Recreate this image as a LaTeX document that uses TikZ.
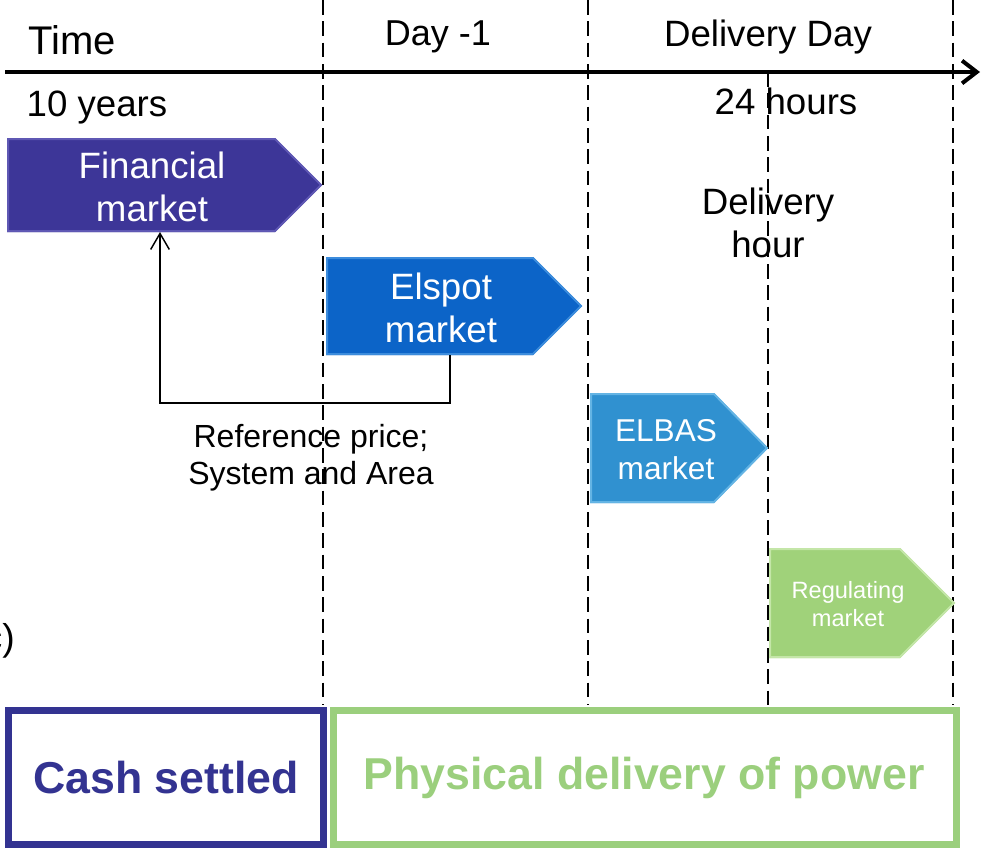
\documentclass[tikz,border=0pt]{standalone}
\usepackage{fontspec}
\setmainfont{Liberation Sans}
\usetikzlibrary{arrows.meta}
\definecolor{finc}{RGB}{61,54,152}
\definecolor{finl}{RGB}{95,88,180}
\definecolor{elsc}{RGB}{12,100,200}
\definecolor{elsl}{RGB}{60,140,220}
\definecolor{elbc}{RGB}{48,145,208}
\definecolor{elbl}{RGB}{100,180,228}
\definecolor{regc}{RGB}{160,210,122}
\definecolor{regl}{RGB}{196,230,168}
\definecolor{cashc}{RGB}{51,51,145}
\definecolor{physc}{RGB}{155,207,125}
\tikzset{
  dline/.style={line width=1.4pt, dash pattern=on 11pt off 5pt},
  mkt/.style={line width=1.5pt, line join=miter},
  mtext/.style={text=white, align=center, inner sep=0pt},
  lbl/.style={align=center, inner sep=0pt},
  fb/.style={line width=1.1pt, -{Straight Barb[length=12pt,width=14pt,line width=1.1pt]}},
  axis/.style={line width=3pt, -{Straight Barb[length=11pt,width=17pt,line width=3pt]}},
}
\begin{document}
\begin{tikzpicture}[x=0.75pt,y=-0.75pt]
\useasboundingbox (0,0) rectangle (981,850);
\clip (0,0) rectangle (981,850);
% dashed time lines
\draw[dline] (323,0) -- (323,705);
\draw[dline] (588,0) -- (588,705);
\draw[dline] (768,72) -- (768,705);
\draw[dline] (953,0) -- (953,705);
% axis
\draw[axis] (5,72) -- (980,72);
% headings
\node[lbl, font=\fontsize{30}{36}\selectfont] (time) at (72,40) {Time};
\node[lbl, font=\fontsize{27}{32}\selectfont] (day) at (438,37) {Day -1};
\node[lbl, font=\fontsize{27.5}{32}\selectfont] (dday) at (768,37) {Delivery Day};
\node[lbl, font=\fontsize{27.5}{32}\selectfont] (years) at (97,107) {10 years};
\node[lbl, font=\fontsize{27.5}{32}\selectfont] (hours) at (786,101) {24 hours};
\node[lbl, font=\fontsize{27.5}{32.5}\selectfont] (dhour) at (768,223) {Delivery\\hour};
% market arrows
\fill[finc] (7,138) -- (275,138) -- (322,185) -- (275,232) -- (7,232) -- cycle;
\draw[mkt, finl] (8,139) -- (275,139) -- (321,185) -- (275,231) -- (8,231) -- cycle;
\node[mtext, font=\fontsize{27.5}{32.5}\selectfont] (fin) at (152,187) {Financial\\market};
\fill[elsc] (326,257) -- (533,257) -- (582,306) -- (533,355) -- (326,355) -- cycle;
\draw[mkt, elsl] (327,258) -- (533,258) -- (581,306) -- (533,354) -- (327,354) -- cycle;
\node[mtext, font=\fontsize{27.5}{32}\selectfont] (els) at (441,308) {Elspot\\market};
\fill[elbc] (590,393) -- (714,393) -- (768,448) -- (714,503) -- (590,503) -- cycle;
\draw[mkt, elbl] (591,394) -- (714,394) -- (767,448) -- (714,502) -- (591,502) -- cycle;
\node[mtext, font=\fontsize{23.7}{28.5}\selectfont] (elb) at (666,450) {ELBAS\\market};
\fill[regc] (769,548) -- (900,548) -- (955,603) -- (900,658) -- (769,658) -- cycle;
\draw[mkt, regl] (770,549) -- (900,549) -- (954,603) -- (900,657) -- (770,657) -- cycle;
\node[mtext, font=\fontsize{17.7}{20.5}\selectfont] (reg) at (848,604) {Regulating\\market};
% feedback connector
\coordinate (elsbot) at (450,355);
\coordinate (bend) at (160,403);
\coordinate (finbot) at (160,232);
\draw[fb] (elsbot) |- (bend) -- (finbot);
\node[lbl, font=\fontsize{24}{27.5}\selectfont] (ref) at (311,458) {Reference price;\\System and Area};
% cut-off fragment (as in the reference, partly outside the frame)
\node[lbl, anchor=east, font=\fontsize{28}{32}\selectfont] (frag) at (15,641) {c)};
% bottom boxes
\draw[cashc, line width=5.25pt] (8.5,710.5) rectangle (323.5,844.5);
\node[lbl, text=cashc, font=\bfseries\fontsize{33.5}{40}\selectfont] (cash) at (166,778) {Cash settled};
\draw[physc, line width=5.25pt] (333.5,710.5) rectangle (956.5,844.5);
\node[lbl, text=physc, font=\bfseries\fontsize{33.5}{40}\selectfont] (phys) at (644,778) {Physical delivery of power};
\end{tikzpicture}
\end{document}
